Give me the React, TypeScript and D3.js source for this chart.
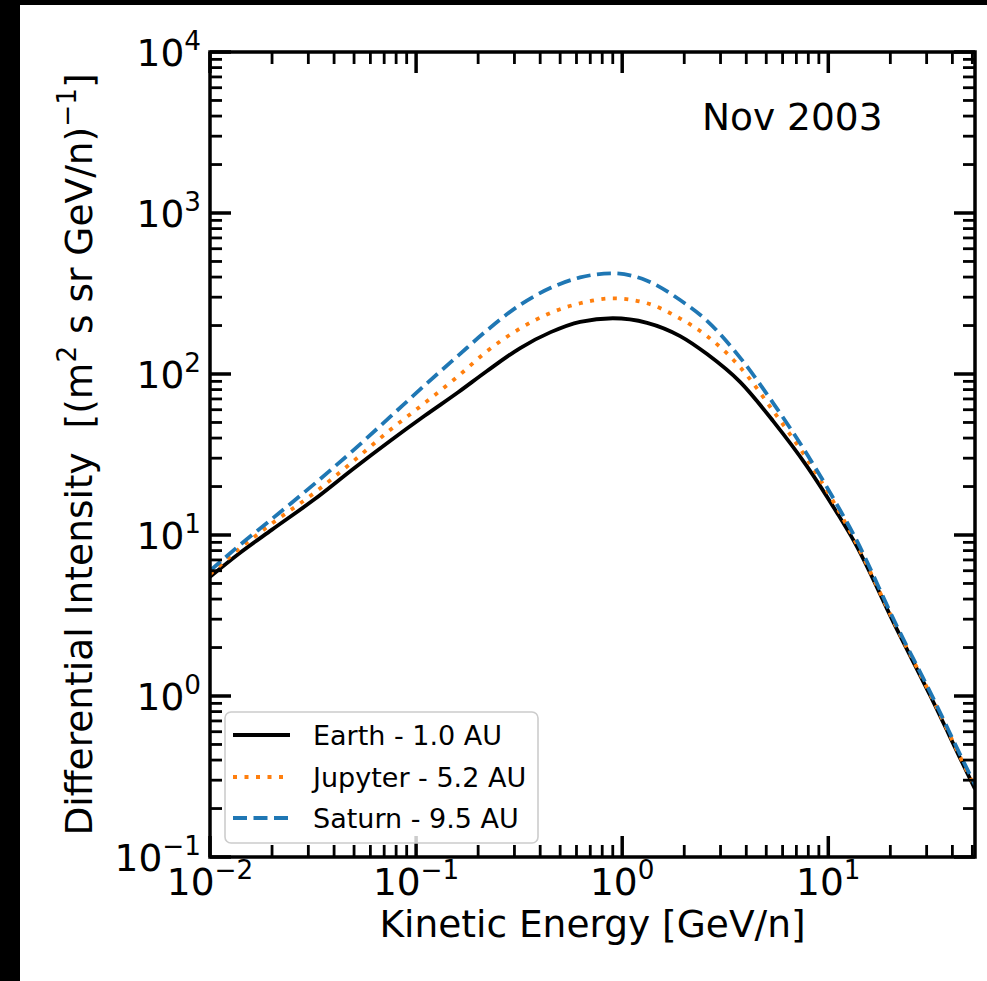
import React from 'react';
import * as d3 from 'd3';

// kinetic energy [GeV/n]
const energy = [0.01, 0.0137, 0.02, 0.032, 0.05, 0.075, 0.11, 0.16, 0.22, 0.32, 0.45, 0.625, 0.9, 1.32, 1.91, 2.58, 3.74, 5.4, 7.9, 11, 13.3, 21.5, 31.3, 47, 51.5];
const earth = [5.5, 7.6, 10.8, 16.6, 26, 38.5, 55, 77, 104, 145, 182, 211, 222, 208, 172, 133, 89, 51, 26.6, 13.8, 9.2, 2.6, 1.0, 0.337, 0.265];
const jupyter = [5.7, 8.1, 11.8, 18.2, 29, 45, 66, 97, 138, 192, 240, 275, 295, 275, 221, 172, 110, 59, 29.5, 14.8, 9.5, 2.65, 1.02, 0.343, 0.27];
const saturn = [6.0, 8.5, 12.6, 20.7, 33.9, 54.3, 85, 130, 186, 269, 343, 398, 422, 380, 288, 214, 126, 66, 31.6, 15.5, 10, 2.72, 1.05, 0.355, 0.28];

const seriesNames = ['Earth - 1.0 AU', 'Jupyter - 5.2 AU', 'Saturn - 9.5 AU'];
const seriesColors = ['#000000', '#ff7f0e', '#1f77b4'];
const seriesDash = [null, '4,7.5', '14,6.5'];

const xDecades = [-2, -1, 0, 1];
const yDecades = [-1, 0, 1, 2, 3, 4];

const W = 987;
const H = 981;
const left = 210, right = 975, top = 52, bottom = 857;
const FONT = 'DejaVu Sans, sans-serif';
const FS = 37.5;

const App = () => {
  const x = d3.scaleLog().domain([0.01, 51.5]).range([left, right]);
  const y = d3.scaleLog().domain([0.1, 1e4]).range([bottom, top]);

  const line = d3
    .line<number>()
    .x((d, i) => x(energy[i]))
    .y((d) => y(d))
    .curve(d3.curveMonotoneX);

  const xMinor: number[] = [];
  xDecades.forEach((p) => {
    for (let k = 2; k <= 9; k++) {
      const v = k * Math.pow(10, p);
      if (v <= 51.5) xMinor.push(v);
    }
  });
  const yMinor: number[] = [];
  yDecades.slice(0, -1).forEach((p) => {
    for (let k = 2; k <= 9; k++) yMinor.push(k * Math.pow(10, p));
  });

  const majLen = 21, minLen = 12;
  const supShift = 16;

  return (
    <svg width={W} height={H} style={{ position: 'absolute', left: 0, top: 0 }} fontFamily={FONT}>
      <rect x={0} y={0} width={W} height={H} fill="#000" />
      <rect x={20} y={5} width={W - 20} height={H - 5} fill="#fff" />

      {/* curves */}
      <g clipPath="url(#plotclip)">
        <defs>
          <clipPath id="plotclip">
            <rect x={left} y={top} width={right - left} height={bottom - top} />
          </clipPath>
        </defs>
        {[earth, jupyter, saturn].map((s, i) => (
          <path
            key={i}
            d={line(s) || ''}
            fill="none"
            stroke={seriesColors[i]}
            strokeWidth={3.8}
            strokeDasharray={seriesDash[i] || undefined}
          />
        ))}
      </g>

      {/* ticks */}
      <g stroke="#000">
        {xDecades.map((p) => {
          const px = x(Math.pow(10, p));
          return (
            <g key={'xm' + p} strokeWidth={3.5}>
              <line x1={px} x2={px} y1={bottom} y2={bottom - majLen} />
              <line x1={px} x2={px} y1={top} y2={top + majLen} />
            </g>
          );
        })}
        {xMinor.map((v, i) => (
          <g key={'xn' + i} strokeWidth={2.8}>
            <line x1={x(v)} x2={x(v)} y1={bottom} y2={bottom - minLen} />
            <line x1={x(v)} x2={x(v)} y1={top} y2={top + minLen} />
          </g>
        ))}
        {yDecades.map((p) => {
          const py = y(Math.pow(10, p));
          return (
            <g key={'ym' + p} strokeWidth={3.5}>
              <line x1={left} x2={left + majLen} y1={py} y2={py} />
              <line x1={right} x2={right - majLen} y1={py} y2={py} />
            </g>
          );
        })}
        {yMinor.map((v, i) => (
          <g key={'yn' + i} strokeWidth={2.8}>
            <line x1={left} x2={left + minLen} y1={y(v)} y2={y(v)} />
            <line x1={right} x2={right - minLen} y1={y(v)} y2={y(v)} />
          </g>
        ))}
      </g>

      <rect x={left} y={top} width={right - left} height={bottom - top} fill="none" stroke="#000" strokeWidth={3.5} />

      {/* tick labels */}
      {xDecades.map((p) => (
        <text key={'xl' + p} x={x(Math.pow(10, p))} y={895} textAnchor="middle" fontSize={FS} fill="#000">
          10
          <tspan fontSize={FS * 0.7} dy={-supShift}>
            {p < 0 ? '\u2212' + Math.abs(p) : String(p)}
          </tspan>
        </text>
      ))}
      {yDecades.map((p) => (
        <text key={'yl' + p} x={201} y={y(Math.pow(10, p)) + 14} textAnchor="end" fontSize={FS} fill="#000">
          10
          <tspan fontSize={FS * 0.7} dy={-supShift}>
            {p < 0 ? '\u2212' + Math.abs(p) : String(p)}
          </tspan>
        </text>
      ))}

      {/* axis labels */}
      <text x={(left + right) / 2} y={937} textAnchor="middle" fontSize={FS} fill="#000">
        Kinetic Energy [GeV/n]
      </text>
      <text
        transform={`translate(92,${(top + bottom) / 2}) rotate(-90)`}
        textAnchor="middle"
        fontSize={FS}
        fill="#000"
        style={{ whiteSpace: 'pre' }}
      >
        {'Differential Intensity  [(m'}
        <tspan fontSize={FS * 0.7} dy={-supShift}>2</tspan>
        <tspan dy={supShift}>{' s sr GeV/n)'}</tspan>
        <tspan fontSize={FS * 0.7} dy={-supShift}>{'\u22121'}</tspan>
        <tspan dy={supShift}>]</tspan>
      </text>

      <text x={702} y={130} fontSize={FS} fill="#000">Nov 2003</text>

      {/* legend */}
      <rect x={225} y={712} width={313} height={131} rx={6} fill="#fff" fillOpacity={0.8} stroke="#cccccc" strokeWidth={1.6} />
      {seriesNames.map((n, i) => {
        const ly = [735, 777, 818][i];
        return (
          <g key={n}>
            <line
              x1={233}
              x2={290}
              y1={ly}
              y2={ly}
              stroke={seriesColors[i]}
              strokeWidth={3.8}
              strokeDasharray={seriesDash[i] || undefined}
            />
            <text x={313} y={ly + 10} fontSize={27} fill="#000">
              {n}
            </text>
          </g>
        );
      })}
    </svg>
  );
};

export default App;
